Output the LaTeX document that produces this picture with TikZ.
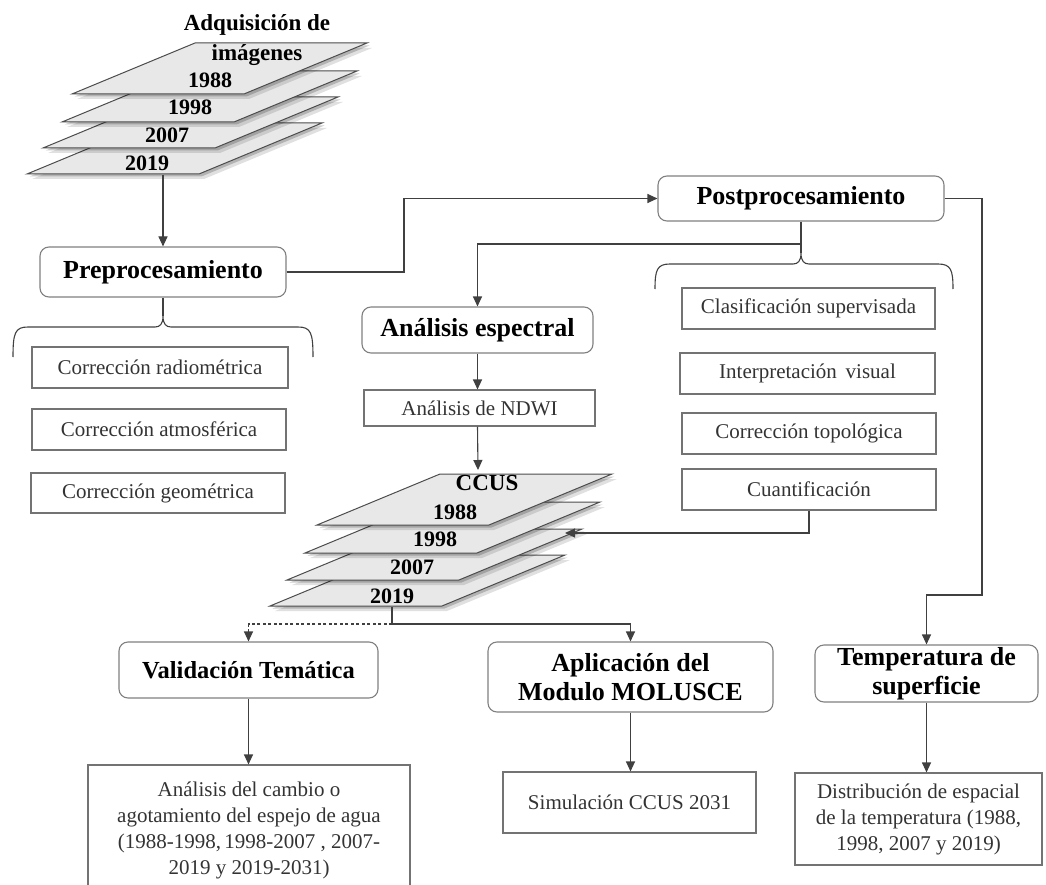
\documentclass[tikz,border=0pt]{standalone}
\usepackage{fontspec}
\setmainfont{Liberation Serif}
\usetikzlibrary{arrows.meta,calc}
\newcommand\drawsheet[2]{%
  \fill[black,opacity=0.12] (#1+5,#2+5) -- ++(172,0) -- ++(123,-51) -- ++(-172,0) -- cycle;
  \fill[black,opacity=0.2] (#1+2.5,#2+2.5) -- ++(172,0) -- ++(123,-51) -- ++(-172,0) -- cycle;
  \filldraw[fill=black!9,draw=black!70,line width=1pt] (#1,#2) -- ++(172,0) -- ++(123,-51) -- ++(-172,0) -- cycle;
}
\begin{document}
\begin{tikzpicture}[x=1pt,y=-1pt,
  conn/.style={draw=black!75,line width=1.1pt},
  arr/.style={conn,-{Triangle[length=10pt,width=9pt]}},
  dconn/.style={conn,dash pattern=on 3pt off 2.5pt},
  plainbox/.style={draw=black!55,line width=1.1pt,inner sep=0pt,align=center,text=black!80,font=\fontsize{21}{26}\selectfont},
  headbox/.style={draw=black!50,line width=1.1pt,rounded corners=9pt,inner sep=0pt,align=center,font=\bfseries\fontsize{26}{29.5}\selectfont},
  sheetlabel/.style={inner sep=0pt,font=\bfseries\fontsize{22}{24}\selectfont},
  sheettitle/.style={inner sep=0pt,font=\bfseries\fontsize{23}{26}\selectfont},
]
\useasboundingbox (0,0) rectangle (1046,885);

% ---- top stack
\drawsheet{27}{174}
\drawsheet{43}{148}
\drawsheet{62}{122}
\drawsheet{72}{94}
\node[sheettitle] (adq1) at (257,25) {Adquisición de};
\node[sheettitle] (adq2) at (257,55) {imágenes};
\node[sheetlabel] (ta) at (210,80) {1988};
\node[sheetlabel] (tb) at (190,107) {1998};
\node[sheetlabel] (tc) at (167,135) {2007};
\node[sheetlabel] (td) at (147,163) {2019};
\coordinate (topout) at (163,175);

% ---- CCUS stack
\drawsheet{270}{606}
\drawsheet{287}{580}
\drawsheet{305}{553}
\drawsheet{317}{525}
\node[sheettitle] (ccus) at (487,483) {CCUS};
\node[sheetlabel] (ca) at (455,512) {1988};
\node[sheetlabel] (cb) at (435,539) {1998};
\node[sheetlabel] (cc) at (412,567) {2007};
\node[sheetlabel] (cd) at (392,596) {2019};
\coordinate (ccusin) at (478,470);
\coordinate (ccusright) at (565,533);
\coordinate (ccusout) at (392,607);

% ---- heading boxes
\node[headbox,minimum width=246pt,minimum height=50pt] (pre) at (163,272) {Preprocesamiento};
\node[headbox,minimum width=286pt,minimum height=45pt] (post) at (801,198.5) {Postprocesamiento};
\node[headbox,minimum width=231pt,minimum height=46pt] (esp) at (477.5,330) {Análisis espectral};
\node[headbox,minimum width=259pt,minimum height=56pt,font=\bfseries\fontsize{24.5}{28}\selectfont] (val) at (248.5,670) {Validación Temática};
\node[headbox,minimum width=285pt,minimum height=70pt] (apl) at (630.5,677) {Aplicación del\\Modulo MOLUSCE};
\node[headbox,minimum width=223pt,minimum height=57pt] (tem) at (926.5,673.5) {Temperatura de\\superficie};

% ---- plain boxes
\node[plainbox,minimum width=231pt,minimum height=36pt] (ndwi) at (479.5,408) {Análisis de NDWI};
\node[plainbox,minimum width=256pt,minimum height=41pt] (rad) at (160,367.5) {Corrección radiométrica};
\node[plainbox,minimum width=254pt,minimum height=41pt] (atm) at (159,429.5) {Corrección atmosférica};
\node[plainbox,minimum width=254pt,minimum height=40pt] (geo) at (158,493) {Corrección geométrica};
\node[plainbox,minimum width=253pt,minimum height=41pt] (cla) at (808.5,308.5) {Clasificación supervisada};
\node[plainbox,minimum width=255pt,minimum height=41pt] (int) at (807.5,373.5) {Interpretación\, visual};
\node[plainbox,minimum width=254pt,minimum height=41pt] (top) at (809,433.5) {Corrección topológica};
\node[plainbox,minimum width=254pt,minimum height=41pt] (cua) at (809,489.5) {Cuantificación};
\node[plainbox,minimum width=322pt,minimum height=130pt] (cam) at (249,830) {Análisis del cambio o\\agotamiento del espejo de agua\\(1988-1998,\,1998-2007 , 2007-\\2019 y 2019-2031)};
\node[plainbox,minimum width=253pt,minimum height=61pt] (sim) at (629.5,802.5) {Simulación CCUS 2031};
\node[plainbox,minimum width=247pt,minimum height=92pt] (dis) at (918.5,819) {Distribución de espacial\\de la temperatura (1988,\\1998, 2007 y 2019)};

% ---- braces
\coordinate (precusp) at (163,316);
\draw[conn] (pre.south) -- (precusp);
\draw[conn] (13,357) .. controls (13,333) and (15,327) .. (28,327) -- (155,327)
  .. controls (160,327) and (163,324) .. (precusp)
  .. controls (163,324) and (166,327) .. (171,327) -- (298,327)
  .. controls (311,327) and (313,333) .. (313,357);
\coordinate (postcusp) at (801,253);
\coordinate (postbr) at (801,244);
\draw[conn] (post.south) -- (postcusp);
\draw[conn] (655,289) .. controls (655,270) and (657,264) .. (670,264) -- (793,264)
  .. controls (798,264) and (801,261) .. (postcusp)
  .. controls (801,261) and (804,264) .. (809,264) -- (938,264)
  .. controls (951,264) and (953,270) .. (953,289);

% ---- connectors
\draw[arr] (topout) -- (pre.north);
\coordinate (j1) at (404,198.5);
\draw[arr] (pre.east) -| (j1) -- (post.west);
\draw[arr] (postbr) -| (esp.north);
\coordinate (j3) at (982,595);
\draw[arr] (post.east) -| (j3) -| (tem.north);
\draw[arr] (esp.south) -- (esp.south |- ndwi.north);
\draw[arr] (esp.south |- ndwi.south) -- (ccusin);
\draw[arr] (cua.south) |- (ccusright);
\coordinate (j4) at (392,624);
\draw[conn] (ccusout) -- (j4);
\draw[arr] (j4) -| (apl.north);
\draw[dconn,-{Triangle[length=10pt,width=9pt]}] (j4) -| (val.north);
\draw[arr] (val.south) -- (cam.north -| val.south);
\draw[arr] (apl.south) -- (sim.north -| apl.south);
\draw[arr] (tem.south) -- (dis.north -| tem.south);
\end{tikzpicture}
\end{document}
